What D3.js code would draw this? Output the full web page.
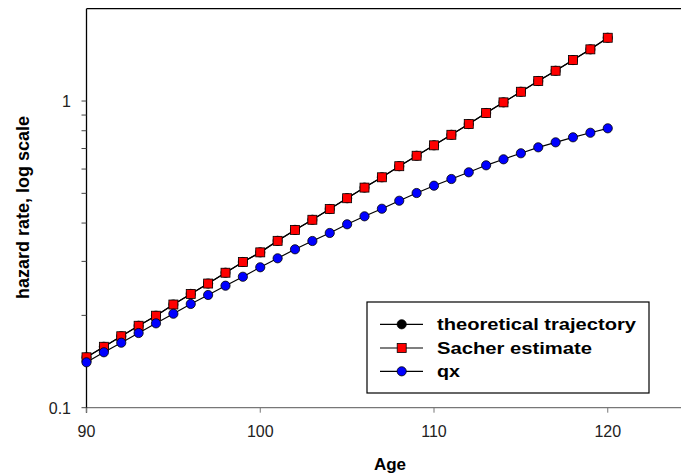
<!DOCTYPE html>
<html>
<head>
<meta charset="utf-8">
<script src="https://cdn.jsdelivr.net/npm/d3@7"></script>
<style>
  body { margin: 0; background: #fff; }
  svg { display: block; font-family: "Liberation Sans", Arial, sans-serif; }
</style>
</head>
<body>
<div id="chart"></div>
<script>
// ages 90..120
var ages = [90, 91, 92, 93, 94, 95, 96, 97, 98, 99, 100, 101, 102, 103, 104, 105,
            106, 107, 108, 109, 110, 111, 112, 113, 114, 115, 116, 117, 118, 119, 120];

var sacher = [0.146, 0.158, 0.171, 0.185, 0.1995, 0.217, 0.235, 0.254, 0.2755, 0.2986,
              0.321, 0.350, 0.380, 0.410, 0.4445, 0.482, 0.522, 0.564, 0.613, 0.663,
              0.717, 0.776, 0.841, 0.914, 0.990, 1.072, 1.162, 1.255, 1.360, 1.474, 1.608];

// theoretical trajectory sits under the Sacher markers
var theoretical = [0.146, 0.158, 0.171, 0.185, 0.1995, 0.217, 0.235, 0.254, 0.2755, 0.2986,
                   0.321, 0.350, 0.380, 0.410, 0.4445, 0.482, 0.522, 0.564, 0.613, 0.663,
                   0.717, 0.776, 0.841, 0.914, 0.990, 1.072, 1.162, 1.255, 1.360, 1.474, 1.608];

var qx = [0.1406, 0.1516, 0.1629, 0.1752, 0.1884, 0.2025, 0.2179, 0.2331, 0.2499, 0.2673,
          0.287, 0.307, 0.3285, 0.3496, 0.3713, 0.3963, 0.4208, 0.4454, 0.473, 0.5012,
          0.5295, 0.5568, 0.5855, 0.6171, 0.6456, 0.6755, 0.7063, 0.7333, 0.7615, 0.788, 0.8147];

var xTicks = [90, 100, 110, 120];
var yMajor = [0.1, 1];
var yMinor = [0.2, 0.3, 0.4, 0.5, 0.6, 0.7, 0.8, 0.9];

var legendNames = ['theoretical trajectory', 'Sacher estimate', 'qx'];

var width = 681, height = 474;

var svg = d3.select('#chart')
  .append('svg')
  .attr('width', width)
  .attr('height', height);

var x = d3.scaleLinear()
  .domain([90, 125])
  .range([86.5, 86.5 + 35 * 17.375]);

var y = d3.scaleLog()
  .domain([0.1, 2])
  .range([407.7, 8.7]);

// frame: top line and left axis black, bottom axis grey
svg.append('line')
  .attr('x1', x(90)).attr('x2', width)
  .attr('y1', y(2)).attr('y2', y(2))
  .attr('stroke', '#000').attr('stroke-width', 1.3);

svg.append('line')
  .attr('x1', x(90)).attr('x2', width)
  .attr('y1', y(0.1)).attr('y2', y(0.1))
  .attr('stroke', '#777').attr('stroke-width', 1.3);

svg.append('line')
  .attr('x1', x(90)).attr('x2', x(90))
  .attr('y1', y(2)).attr('y2', y(0.1) + 5)
  .attr('stroke', '#000').attr('stroke-width', 1.3);

// x ticks
svg.selectAll('.xtick')
  .data(xTicks)
  .enter()
  .append('line')
  .attr('x1', function(d) { return x(d); })
  .attr('x2', function(d) { return x(d); })
  .attr('y1', y(0.1))
  .attr('y2', y(0.1) + 5)
  .attr('stroke', '#777');

svg.selectAll('.xlabel')
  .data(xTicks)
  .enter()
  .append('text')
  .attr('x', function(d) { return x(d); })
  .attr('y', 437)
  .attr('text-anchor', 'middle')
  .attr('font-size', 16)
  .attr('fill', '#222')
  .text(function(d) { return d; });

// y ticks
svg.selectAll('.ytick')
  .data(yMajor.concat(yMinor))
  .enter()
  .append('line')
  .attr('x1', x(90) - 5)
  .attr('x2', x(90))
  .attr('y1', function(d) { return y(d); })
  .attr('y2', function(d) { return y(d); })
  .attr('stroke', '#444');

svg.selectAll('.ylabel')
  .data(yMajor)
  .enter()
  .append('text')
  .attr('x', 71)
  .attr('y', function(d) { return y(d) + 6; })
  .attr('text-anchor', 'end')
  .attr('font-size', 16)
  .attr('fill', '#222')
  .text(function(d) { return d; });

// axis titles
svg.append('text')
  .attr('transform', 'translate(29,207.5) rotate(-90)')
  .attr('text-anchor', 'middle')
  .attr('font-size', 18)
  .attr('font-weight', 'bold')
  .text('hazard rate, log scale');

svg.append('text')
  .attr('x', 390)
  .attr('y', 470)
  .attr('text-anchor', 'middle')
  .attr('font-size', 17)
  .attr('font-weight', 'bold')
  .text('Age');

// series
var line = d3.line()
  .x(function(d) { return x(d[0]); })
  .y(function(d) { return y(d[1]); });

function pairs(vals) {
  return ages.map(function(a, i) { return [a, vals[i]]; });
}

var series = [
  { name: legendNames[0], vals: theoretical, fill: '#000', shape: 'circle' },
  { name: legendNames[1], vals: sacher, fill: '#ff0000', shape: 'square' },
  { name: legendNames[2], vals: qx, fill: '#0000ff', shape: 'circle' }
];

series.forEach(function(s) {
  svg.append('path')
    .datum(pairs(s.vals))
    .attr('d', line)
    .attr('fill', 'none')
    .attr('stroke', '#000')
    .attr('stroke-width', 1.2);
});

function drawMarker(g, shape, fill, cx, cy) {
  if (shape === 'square') {
    g.append('rect')
      .attr('x', cx - 4.5).attr('y', cy - 4.5)
      .attr('width', 9).attr('height', 9)
      .attr('fill', fill).attr('stroke', '#000').attr('stroke-width', 0.8);
  } else {
    g.append('circle')
      .attr('cx', cx).attr('cy', cy).attr('r', 4.6)
      .attr('fill', fill).attr('stroke', '#000').attr('stroke-width', 0.8);
  }
}

series.forEach(function(s) {
  var g = svg.append('g');
  pairs(s.vals).forEach(function(p) {
    drawMarker(g, s.shape, s.fill, x(p[0]), y(p[1]));
  });
});

// legend
var legend = svg.append('g');
legend.append('rect')
  .attr('x', 367).attr('y', 302)
  .attr('width', 282).attr('height', 91)
  .attr('fill', '#fff')
  .attr('stroke', '#000')
  .attr('stroke-width', 1.2);

var rowY = [324.3, 348, 371.3];
var textWidths = [199, 155, 23];
series.forEach(function(s, i) {
  legend.append('line')
    .attr('x1', 380).attr('x2', 423)
    .attr('y1', rowY[i]).attr('y2', rowY[i])
    .attr('stroke', '#000').attr('stroke-width', 1.2);
  drawMarker(legend, s.shape, s.fill, 401.7, rowY[i]);
  legend.append('text')
    .attr('x', 437)
    .attr('y', rowY[i] + 5.5)
    .attr('font-size', 17)
    .attr('font-weight', 'bold')
    .attr('textLength', textWidths[i])
    .attr('lengthAdjust', 'spacingAndGlyphs')
    .text(s.name);
});
</script>
</body>
</html>
